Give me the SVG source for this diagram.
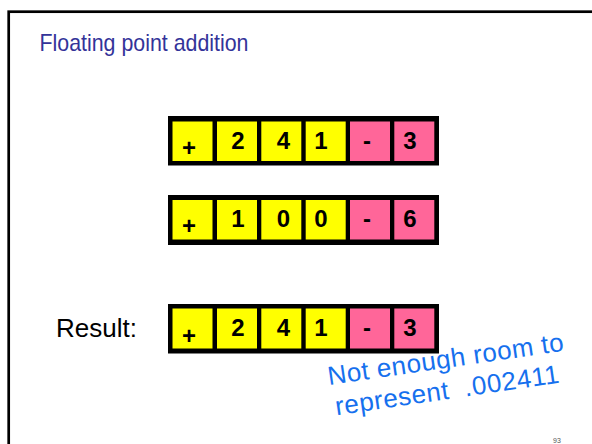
<svg xmlns="http://www.w3.org/2000/svg" width="592" height="444" viewBox="0 0 592 444">
<style>
.frame{fill:none;stroke:#000;stroke-width:2.7}
.title{font-family:"Liberation Sans",Arial,sans-serif;font-size:24px;fill:#333399}
.row{fill:#000}
.y{fill:#ffff00}
.p{fill:#ff6699}
.d{font-family:"Liberation Sans",Arial,sans-serif;font-size:24px;font-weight:bold;fill:#000;text-anchor:middle}
.lbl{font-family:"Liberation Sans",Arial,sans-serif;font-size:26px;fill:#000}
.note{font-family:"Liberation Sans",Arial,sans-serif;font-size:26px;fill:#1670ee;white-space:pre}
.pg{font-family:"Liberation Sans",Arial,sans-serif;font-size:7px;fill:#555}
</style>
<rect x="0" y="0" width="592" height="444" fill="#fff"/>
<rect class="frame" x="8.7" y="11.7" width="620" height="470"/>
<text class="title" x="39.5" y="51" textLength="209" lengthAdjust="spacingAndGlyphs">Floating point addition</text>

<g id="operand1">
<rect class="row" x="168" y="116" width="271" height="49.5"/>
<rect class="y" x="172.5" y="121.5" width="40" height="39.5"/>
<rect class="y" x="217" y="121.5" width="40" height="39.5"/>
<rect class="y" x="261.3" y="121.5" width="40" height="39.5"/>
<rect class="y" x="305.7" y="121.5" width="40" height="39.5"/>
<rect class="p" x="350" y="121.5" width="40" height="39.5"/>
<rect class="p" x="394.3" y="121.5" width="40" height="39.5"/>
<text class="d" x="189" y="155.5">+</text>
<text class="d" x="238" y="148.5">2</text>
<text class="d" x="283.5" y="148.5">4</text>
<text class="d" x="321" y="148.5">1</text>
<text class="d" x="367" y="148.5">-</text>
<text class="d" x="410" y="148.5">3</text>
</g>

<g id="operand2">
<rect class="row" x="168" y="195" width="271" height="50"/>
<rect class="y" x="172.5" y="200" width="40" height="39.5"/>
<rect class="y" x="217" y="200" width="40" height="39.5"/>
<rect class="y" x="261.3" y="200" width="40" height="39.5"/>
<rect class="y" x="305.7" y="200" width="40" height="39.5"/>
<rect class="p" x="350" y="200" width="40" height="39.5"/>
<rect class="p" x="394.3" y="200" width="40" height="39.5"/>
<text class="d" x="189" y="234">+</text>
<text class="d" x="238" y="227">1</text>
<text class="d" x="283.5" y="227">0</text>
<text class="d" x="321" y="227">0</text>
<text class="d" x="367" y="227">-</text>
<text class="d" x="410" y="227">6</text>
</g>

<g id="result">
<text class="lbl" x="56" y="337">Result:</text>
<rect class="row" x="168" y="304" width="271" height="49.5"/>
<rect class="y" x="172.5" y="308.5" width="40" height="40"/>
<rect class="y" x="217" y="308.5" width="40" height="40"/>
<rect class="y" x="261.3" y="308.5" width="40" height="40"/>
<rect class="y" x="305.7" y="308.5" width="40" height="40"/>
<rect class="p" x="350" y="308.5" width="40" height="40"/>
<rect class="p" x="394.3" y="308.5" width="40" height="40"/>
<text class="d" x="189" y="343.5">+</text>
<text class="d" x="238" y="336">2</text>
<text class="d" x="283.5" y="336">4</text>
<text class="d" x="321" y="336">1</text>
<text class="d" x="367" y="336">-</text>
<text class="d" x="410" y="336">3</text>
</g>

<g id="note" transform="translate(329,385) rotate(-8.3)">
<text class="note" x="0" y="0" textLength="238">Not enough room to</text>
<text class="note" x="3" y="31" textLength="226" xml:space="preserve">represent  .002411</text>
</g>

<text class="pg" x="553" y="443">93</text>
</svg>
